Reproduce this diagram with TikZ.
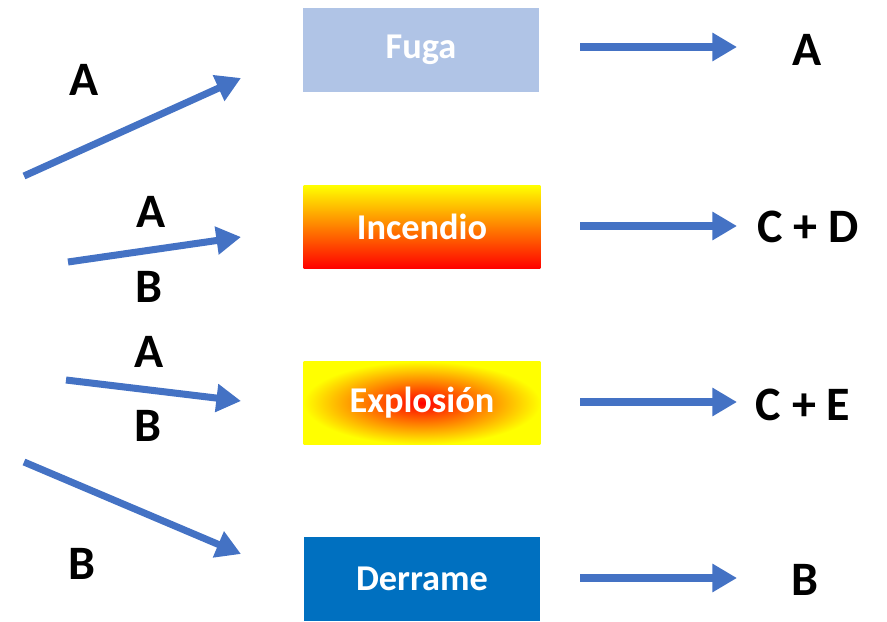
\documentclass[tikz,border=0pt]{standalone}
\usepackage{fontspec}
\setmainfont{Carlito}
\usepackage{tikz}
\usepackage{xcolor}
\definecolor{tarrow}{RGB}{68,114,196}
\definecolor{tfuga}{RGB}{176,196,230}
\definecolor{tderrame}{RGB}{0,112,192}
\usetikzlibrary{arrows.meta}

\begin{document}
\begin{tikzpicture}[x=0.03cm, y=-0.03cm]
\tikzstyle{evbox} = [
  shape=rectangle,
  minimum width=7.1cm,
  minimum height=2.5cm,
  inner sep=0pt,
  text=white,
  font=\fontsize{31}{35}\selectfont\bfseries
]
\tikzstyle{lbl} = [
  inner sep=0pt,
  font=\fontsize{41}{45}\selectfont\bfseries
]
\tikzstyle{tarr} = [
  draw = tarrow,
  line width = 6pt,
  -{Triangle[length=21pt, width=23pt]}
]

\useasboundingbox (0,0) rectangle (887,622);

\node[evbox, fill=tfuga] (fuga) at (421,50) {Fuga};
\node[evbox, top color=yellow, bottom color=red, middle color=orange] (incendio) at (422,227) {Incendio};
\node[evbox, inner color=red, outer color=yellow] (explosion) at (422,403) {Explosión};
\node[evbox, fill=tderrame] (derrame) at (422,579) {Derrame};

\node[lbl] (la1) at (84,80) {A};
\node[lbl] (la2) at (151,212) {A};
\node[lbl] (lb2) at (149,287) {B};
\node[lbl] (la3) at (149,352) {A};
\node[lbl] (lb3) at (148,426) {B};
\node[lbl] (lb4) at (82,564) {B};

\node[lbl] (ra) at (807,50) {A};
\node[lbl] (rcd) at (808,227) {C + D};
\node[lbl] (rce) at (803,405) {C + E};
\node[lbl] (rb) at (805,580) {B};

\coordinate (s1) at (24,176);
\coordinate (e1) at (241,78);
\coordinate (s2) at (68,262);
\coordinate (e2) at (241,237);
\coordinate (s3) at (66,380);
\coordinate (e3) at (241,401);
\coordinate (s4) at (24,462);
\coordinate (e4) at (241,554);

\coordinate (f1) at (580,47);
\coordinate (g1) at (737,47);
\coordinate (f2) at (580,226);
\coordinate (g2) at (737,226);
\coordinate (f3) at (580,402);
\coordinate (g3) at (737,402);
\coordinate (f4) at (580,578);
\coordinate (g4) at (737,578);

\draw[tarr] (s1) -- (e1);
\draw[tarr] (s2) -- (e2);
\draw[tarr] (s3) -- (e3);
\draw[tarr] (s4) -- (e4);
\draw[tarr] (f1) -- (g1);
\draw[tarr] (f2) -- (g2);
\draw[tarr] (f3) -- (g3);
\draw[tarr] (f4) -- (g4);

\end{tikzpicture}
\end{document}
